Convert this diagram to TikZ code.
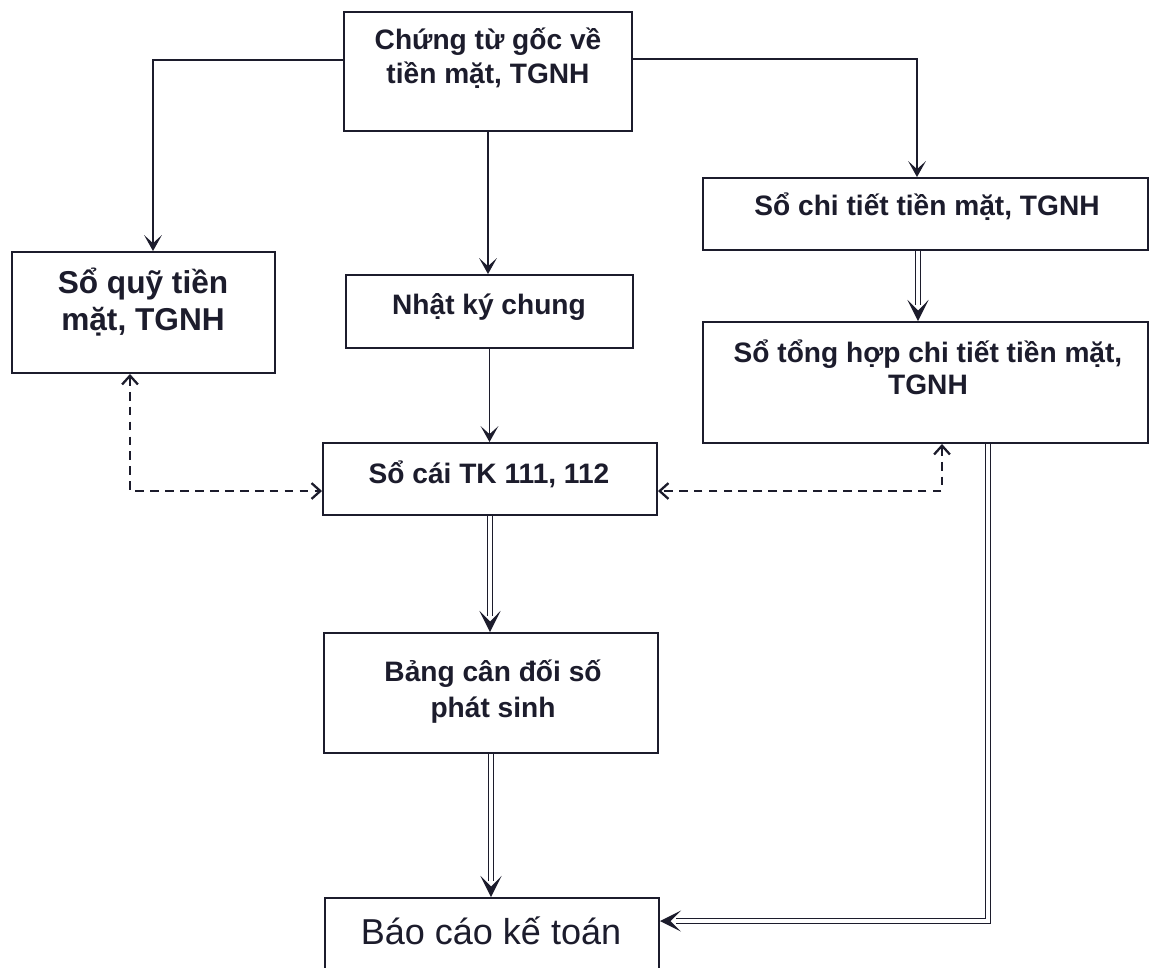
\documentclass[tikz,border=0pt]{standalone}
\usepackage{fontspec}
\setmainfont{Liberation Sans}
\usetikzlibrary{arrows.meta,calc,fit}
\definecolor{ink}{HTML}{1C1C2C}
\begin{document}
\begin{tikzpicture}[x=0.02cm,y=-0.02cm,
  box/.style={draw=ink, line width=1.1pt, inner sep=0pt},
  lbl/.style={text=ink, font=\bfseries\fontsize{16}{18.8}\selectfont, align=center, inner sep=0pt, anchor=base},
  flow/.style={draw=ink, line width=1pt, -{Stealth[length=9pt,width=10pt,inset=4.5pt]}},
  dbl/.style={draw=ink, line width=0.9pt, double=white, double distance=1.8pt},
  dblhead/.style={draw=ink, line width=1pt, -{Stealth[length=12pt,width=12pt,inset=6pt]}},
  dsh/.style={draw=ink, line width=1.1pt, dash pattern=on 5pt off 3.5pt,
    {Straight Barb[length=5pt,width=9pt,line width=1.3pt]}-{Straight Barb[length=5pt,width=9pt,line width=1.3pt]}}
]
\useasboundingbox (0,0) rectangle (1151,967);
\clip (0,0) rectangle (1151,967);
\fill[white] (0,0) rectangle (1151,967);

% boxes
\node[box, fit={(344,12) (632,131)}]   (src) {};
\node[box, fit={(12,252) (275,373)}]   (quy) {};
\node[box, fit={(703,178) (1148,250)}] (ct)  {};
\node[box, fit={(703,322) (1148,443)}] (th)  {};
\node[box, fit={(346,275) (633,348)}]  (nkc) {};
\node[box, fit={(323,443) (657,515)}]  (sc)  {};
\node[box, fit={(324,633) (658,753)}]  (bcd) {};
\node[box, fit={(325,898) (659,1000)}] (bc)  {};

% labels (multi-line labels sit on the baseline of their last line)
\node[lbl] (src-t) at (488,83) {Chứng từ gốc về\\tiền mặt, TGNH};
\node[lbl, font=\bfseries\fontsize{18}{21}\selectfont] (quy-t) at (143,330) {Sổ quỹ tiền\\mặt, TGNH};
\node[lbl] (ct-t)  at (927,215) {Sổ chi tiết tiền mặt, TGNH};
\node[lbl, font=\bfseries\fontsize{16}{18.2}\selectfont] (th-t) at (928,394) {Sổ tổng hợp chi tiết tiền mặt,\\TGNH};
\node[lbl] (nkc-t) at (489,314) {Nhật ký chung};
\node[lbl] (sc-t)  at (489,483) {Sổ cái TK 111, 112};
\node[lbl, font=\bfseries\fontsize{16}{20}\selectfont] (bcd-t) at (493,717) {Bảng cân đối số\\phát sinh};
\node[lbl, font=\fontsize{20.5}{24}\selectfont] (bc-t) at (491,944) {Báo cáo kế toán};

% single-line flows
\draw[flow] ($(src.west)+(0,-11.5)$) -| ($(quy.north)+(9.5,0)$);
\draw[flow] ($(src.east)+(0,-12.5)$) -| ($(ct.north)+(-8.5,0)$);
\draw[flow] (src.south) -- (src.south |- nkc.north);
\draw[flow] (nkc.south) -- (nkc.south |- sc.north);

% double-line flows
\draw[dbl, shorten >=9pt] ($(ct.south)+(-7.5,0)$) -- ($(th.north)+(-7.5,0)$);
\draw[dblhead] ($(th.north)+(-7.5,-2)$) -- ($(th.north)+(-7.5,0)$);
\draw[dbl, shorten >=9pt] (sc.south) -- (sc.south |- bcd.north);
\draw[dblhead] ($(sc.south |- bcd.north)+(0,-2)$) -- (sc.south |- bcd.north);
\draw[dbl, shorten >=9pt] (bcd.south) -- (bcd.south |- bc.north);
\draw[dblhead] ($(bcd.south |- bc.north)+(0,-2)$) -- (bcd.south |- bc.north);
\draw[dbl, shorten >=9pt] ($(th.south)+(62.5,0)$) |- ($(bc.north east)+(0,24)$);
\draw[dblhead] ($(bc.north east)+(2,24)$) -- ($(bc.north east)+(0,24)$);

% dashed cross-checks
\draw[dsh] ($(quy.south)+(-13.5,0)$) |- ($(sc.west)+(0,12)$);
\draw[dsh] ($(th.south)+(16.5,0)$) |- ($(sc.east)+(0,12)$);
\end{tikzpicture}
\end{document}
